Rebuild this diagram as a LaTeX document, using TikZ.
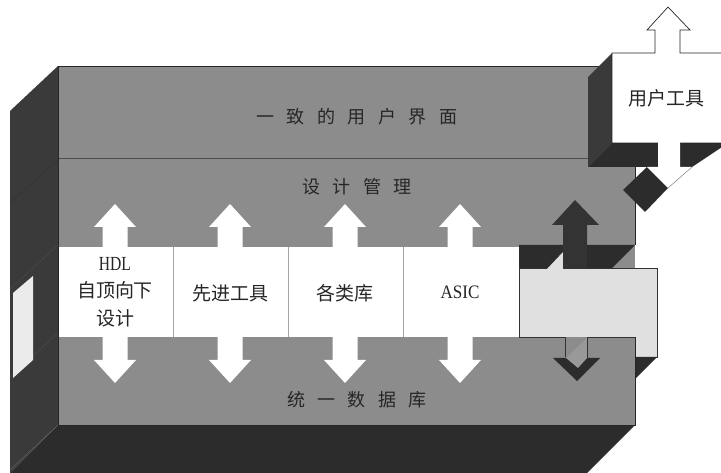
\documentclass[tikz,border=0pt]{standalone}
\usepackage{fontspec}
\setmainfont{Liberation Serif}
\newfontfamily\cjk{Noto Sans CJK SC}
\definecolor{gface}{HTML}{8C8C8C}
\definecolor{leftc}{HTML}{3A3A3A}
\definecolor{botc}{HTML}{2C2C2C}
\definecolor{lightc}{HTML}{E0E0E0}
\definecolor{darkarr}{HTML}{333333}
\definecolor{txtc}{HTML}{262626}
\newcommand\gapsp{\hspace{12.5pt}}
\begin{document}
\begin{tikzpicture}[x=1pt,y=-1pt,
  edge/.style={draw=black!85,line width=0.7pt},
  sepline/.style={draw=black!70,line width=0.6pt},
  cellsep/.style={draw=black!35,line width=0.5pt},
  bandtext/.style={text=txtc,font=\cjk\fontsize{18}{20}\selectfont,inner sep=0pt},
  celltext/.style={text=black!85,font=\cjk\fontsize{19}{27.5}\selectfont,align=center,inner sep=0pt}]
\useasboundingbox (0,0) rectangle (721,473);
\clip (0,0) rectangle (721,473);
% main box: left and bottom faces
\fill[leftc] (58,66) -- (10,111) -- (10,473) -- (58,425) -- cycle;
\fill[botc] (58,425) -- (635,425) -- (587,473) -- (10,473) -- cycle;
\draw[black!80,line width=0.5pt] (58,160) -- (10,203);
\draw[black!70,line width=0.4pt] (58,245) -- (10,289);
\draw[black!70,line width=0.4pt] (58,333) -- (10,377);
\draw[black!60,line width=0.4pt] (58,425) -- (10,470);
\fill[white!92!black] (13,293) -- (33,276) -- (33,360) -- (13,378) -- cycle;
% main front face
\fill[gface] (58,66) rectangle (635,425);
\fill[white] (58,247) rectangle (519,337);
% recess on the right
\fill[botc] (519,245) -- (635,245) -- (611,269) -- (519,269) -- cycle;
\filldraw[fill=lightc,draw=black!80,line width=0.6pt] (519,268) rectangle (657,357);
\fill[botc] (635,357) -- (657,357) -- (635,379) -- cycle;
\fill[gface] (519,337) rectangle (635,425);
% down arrow into the database band
\fill[gface] (565,337) rectangle (587,358);
\fill[botc] (553,358) -- (600,358) -- (577,381) -- cycle;
\fill[black!40] (566,358) -- (587,338) -- (587,358) -- (578,368) -- cycle;
\draw[black!80,line width=0.6pt] (519,337) -- (565,337) -- (565,357);
\draw[black!80,line width=0.6pt] (587,358) -- (587,337) -- (635,337);
% white double arrows
\foreach \cx in {115,230,345,460}{
  \begin{scope}[shift={(\cx,0)}]
  \fill[white] (-12.5,227) -- (-21,227) -- (0,204) -- (21,227) -- (12.5,227)
    -- (12.5,360) -- (21,360) -- (0,383) -- (-21,360) -- (-12.5,360) -- cycle;
  \end{scope}}
% separators
\draw[sepline] (58,158) -- (612,158);
\draw[cellsep] (173,247) -- (173,337);
\draw[cellsep] (288,247) -- (288,337);
\draw[cellsep] (403,247) -- (403,337);
% outline of the main front face
\draw[edge] (612,66) -- (58,66) -- (58,425) -- (635,425) -- (635,337);
\draw[edge] (635,245) -- (635,160);
% dark up arrow
\fill[lightc] (547,269) -- (563,269) -- (563,252) -- cycle;
\fill[darkarr] (563,268) -- (563,225) -- (552,225) -- (575,200) -- (599,225) -- (587,225) -- (587,268) -- cycle;
% user tools box
\fill[leftc] (612,53) -- (588,77) -- (588,167) -- (612,143) -- cycle;
\fill[botc] (612,143) -- (728,143) -- (692,167) -- (588,167) -- cycle;
\fill[botc] (647,167) -- (668,188) -- (645,212) -- (623,190) -- cycle;
\fill[white] (658,142) -- (680,142) -- (680,167) -- (692,167) -- (668,188) -- (647,167) -- (658,167) -- cycle;
\draw[black!50,line width=0.5pt] (692,167) -- (668,188);
\fill[white] (612,143) -- (612,53) -- (655,53) -- (655,30) -- (647,30) -- (668,7) -- (690,30) -- (680,30) -- (680,53) -- (730,53) -- (730,143) -- cycle;
\draw[edge] (658,143) -- (612,143) -- (612,53) -- (655,53) -- (655,30) -- (647,30) -- (668,7) -- (690,30) -- (680,30) -- (680,53) -- (730,53) -- (730,143) -- (680,143);
% texts
\node[bandtext] (t1) at (357,117) {一\gapsp 致\gapsp 的\gapsp 用\gapsp 户\gapsp 界\gapsp 面};
\node[bandtext] (t2) at (357,187) {设\gapsp 计\gapsp 管\gapsp 理};
\node[bandtext] (t3) at (357,400) {统\gapsp 一\gapsp 数\gapsp 据\gapsp 库};
\node[celltext] (c1) at (115,292) {{\rmfamily\fontsize{20}{27.5}\selectfont\scalebox{0.78}[1]{HDL}}\\自顶向下\\设计};
\node[celltext] (c2) at (230,293) {先进工具};
\node[celltext] (c3) at (345,293) {各类库};
\node[celltext] (c4) at (460,292) {\rmfamily\fontsize{19}{20}\selectfont\scalebox{0.9}[1]{ASIC}};
\node[celltext] (u1) at (666,98) {用户工具};
\end{tikzpicture}
\end{document}
